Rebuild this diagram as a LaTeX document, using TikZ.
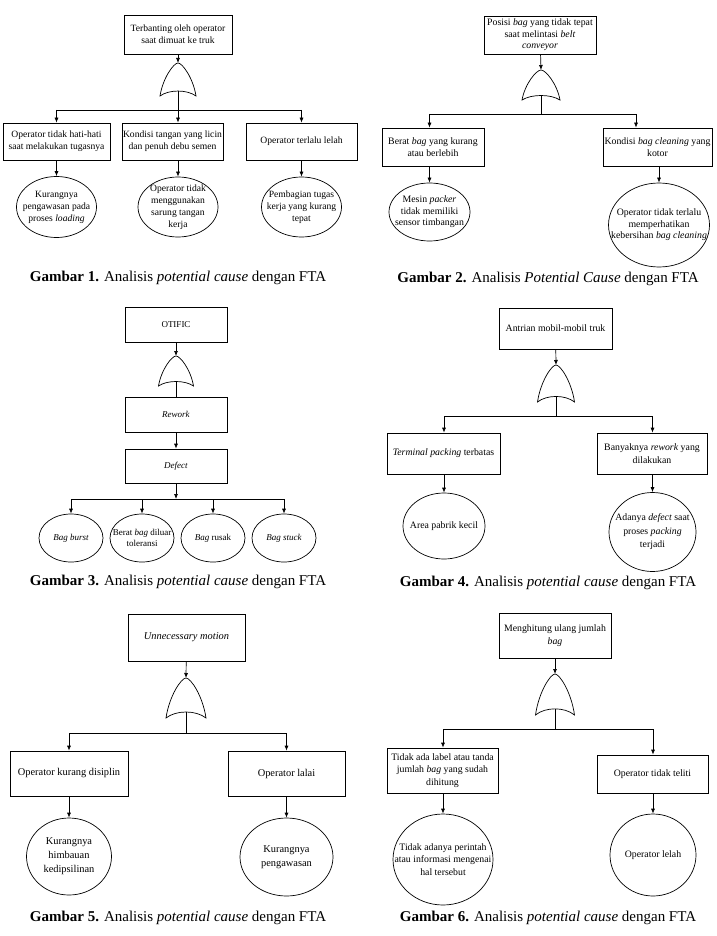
\documentclass[tikz,border=0pt]{standalone}
\usepackage{fontspec}
\setmainfont{Liberation Serif}
\usetikzlibrary{arrows.meta, shapes.geometric}

\tikzset{
  box/.style={draw, rectangle, align=center, inner sep=1pt},
  oval/.style={draw, ellipse, inner sep=0pt},
  lbl/.style={align=center, inner sep=0pt},
  arr/.style={-{Latex[length=5pt,width=4pt]}},
  caption/.style={font=\fontsize{15}{17}\selectfont},
  pics/orgate/.style 2 args={code={
    \draw (-#1/2,#2) .. controls (-0.42*#1,0.45*#2) and (-0.12*#1,0) .. (0,0)
      .. controls (0.12*#1,0) and (0.42*#1,0.45*#2) .. (#1/2,#2)
      .. controls (0.25*#1,0.8*#2) and (-0.25*#1,0.8*#2) .. cycle;
    \coordinate (-top) at (0,0);
    \coordinate (-bot) at (0,0.85*#2);
  }}
}

\begin{document}
\begin{tikzpicture}[x=1pt, y=-1pt, line width=0.7pt, font=\fontsize{9.8}{11.5}\selectfont]
\useasboundingbox (0,0) rectangle (716,936);

% Gambar 1
\begin{scope}[font=\fontsize{9.6}{12}\selectfont]
\node[box, minimum width=108, minimum height=39] (t1) at (178,34.5) {Terbanting oleh operator\\saat dimuat ke truk};
\pic (g1) at (178,63) {orgate={36}{33}};
\coordinate (bus1) at (178,110);
\node[box, minimum width=107, minimum height=37] (a1) at (56.5,141.5) {Operator tidak hati-hati\\saat melakukan tugasnya};
\node[box, minimum width=97, minimum height=37] (b1) at (172.5,141.5) {Kondisi tangan yang licin\\dan penuh debu semen};
\node[box, minimum width=111, minimum height=37] (c1) at (301.5,141.5) {Operator terlalu lelah};
\node[oval, minimum width=80, minimum height=61, label={[lbl]center:Kurangnya\\pengawasan pada\\proses \textit{loading}}] (ea1) at (56.5,207) {};
\node[oval, minimum width=80, minimum height=60, label={[lbl]center:Operator tidak\\menggunakan\\sarung tangan\\kerja}] (eb1) at (178,207) {};
\node[oval, minimum width=80, minimum height=60, label={[lbl]center:Pembagian tugas\\kerja yang kurang\\tepat}] (ec1) at (301.5,207) {};
\draw[arr] (t1) -- (g1-top);
\draw (g1-bot) -- (bus1);
\draw (bus1 -| a1) -- (bus1 -| c1);
\foreach \n/\e in {a1/ea1, b1/eb1, c1/ec1}
{
    \draw[arr] (bus1 -| \e) -- (\e |- \n.north);
    \draw[arr] (\e |- \n.south) -- (\e.north);
}
\end{scope}
\node[caption] (cap1) at (178,278) {\textbf{Gambar 1.} Analisis \textit{potential cause} dengan FTA};

% Gambar 2
\begin{scope}[font=\fontsize{9.8}{11.5}\selectfont]
\node[box, minimum width=112, minimum height=38] (t2) at (540,35) {Posisi \textit{bag} yang tidak tepat\\saat melintasi \textit{belt}\\\textit{conveyor}};
\pic (g2) at (541,70) {orgate={38}{30}};
\coordinate (bus2) at (541,114);
\coordinate (k2) at (636,114);
\node[box, minimum width=102, minimum height=38] (a2) at (433,147) {Berat \textit{bag} yang kurang\\atau berlebih};
\node[box, minimum width=109, minimum height=38] (b2) at (657.5,147) {Kondisi \textit{bag cleaning} yang\\kotor};
\node[oval, minimum width=81, minimum height=58, label={[lbl]center:Mesin \textit{packer}\\tidak memiliki\\sensor timbangan}] (ea2) at (429.5,212) {};
\node[oval, minimum width=101, minimum height=84, label={[lbl]center:Operator tidak terlalu\\memperhatikan\\kebersihan \textit{bag cleaning}}] (eb2) at (659,225) {};
\draw[arr] (t2) -- (g2-top);
\draw (g2-bot) -- (bus2);
\draw (bus2 -| ea2) -- (k2);
\draw[arr] (bus2 -| ea2) -- (ea2 |- a2.north);
\draw[arr] (k2) -- (k2 |- b2.north);
\draw[arr] (ea2 |- a2.south) -- (ea2.north);
\draw[arr] (eb2 |- b2.south) -- (eb2.north);
\end{scope}
\node[caption] (cap2) at (548,279) {\textbf{Gambar 2.} Analisis \textit{Potential Cause} dengan FTA};

% Gambar 3
\begin{scope}[font=\fontsize{9}{11}\selectfont]
\node[box, minimum width=102, minimum height=35] (t3) at (176,324.5) {OTIFIC};
\pic (g3) at (176,356) {orgate={35}{30}};
\node[box, minimum width=102, minimum height=35] (r3) at (176,414.5) {\textit{Rework}};
\node[box, minimum width=102, minimum height=34] (d3) at (176,466) {\textit{Defect}};
\coordinate (bus3) at (176,499);
\foreach \x/\e/\s in {71/e3a/\textit{Bag burst}, 142/e3b/Berat \textit{bag} diluar\\toleransi, 213/e3c/\textit{Bag} rusak, 284/e3d/\textit{Bag stuck}}
{
    \node[oval, minimum width=64, minimum height=48, label={[lbl]center:\s}] (\e) at (\x,538) {};
    \draw[arr] (bus3 -| \e) -- (\e);
}
\draw[arr] (t3) -- (g3-top);
\draw (g3-bot) -- (r3);
\draw[arr] (r3) -- (d3);
\draw[arr] (d3) -- (bus3);
\draw (bus3 -| e3a) -- (bus3 -| e3d);
\end{scope}
\node[caption] (cap3) at (178,582) {\textbf{Gambar 3.} Analisis \textit{potential cause} dengan FTA};

% Gambar 4
\begin{scope}[font=\fontsize{9.8}{13.5}\selectfont]
\node[box, minimum width=113, minimum height=41] (t4) at (555.5,328.5) {Antrian mobil-mobil truk};
\pic (g4) at (556,365) {orgate={37}{37}};
\coordinate (bus4) at (556,416);
\node[box, minimum width=113, minimum height=41] (a4) at (443.5,453.5) {\textit{Terminal packing} terbatas};
\node[box, minimum width=110, minimum height=41] (b4) at (652,453.5) {Banyaknya \textit{rework} yang\\dilakukan};
\node[oval, minimum width=82, minimum height=66, label={[lbl]center:Area pabrik kecil}] (ea4) at (444,526) {};
\node[oval, minimum width=87, minimum height=79, label={[lbl]center:Adanya \textit{defect} saat\\proses \textit{packing}\\terjadi}] (eb4) at (652.5,532) {};
\draw[arr] (t4) -- (g4-top);
\draw (g4-bot) -- (bus4);
\draw (bus4 -| ea4) -- (bus4 -| eb4);
\foreach \n/\e in {a4/ea4, b4/eb4}
{
    \draw[arr] (bus4 -| \e) -- (\e |- \n.north);
    \draw[arr] (\e |- \n.south) -- (\e.north);
}
\end{scope}
\node[caption] (cap4) at (548,583) {\textbf{Gambar 4.} Analisis \textit{potential cause} dengan FTA};

% Gambar 5
\begin{scope}[font=\fontsize{10.4}{14}\selectfont]
\node[box, minimum width=117, minimum height=47] (t5) at (186.5,637.5) {\textit{Unnecessary motion}};
\pic (g5) at (186,678) {orgate={40}{40}};
\coordinate (bus5) at (186,733);
\node[box, minimum width=118, minimum height=45] (a5) at (69,773.5) {Operator kurang disiplin};
\node[box, minimum width=117, minimum height=45] (b5) at (286.5,773.5) {Operator lalai};
\node[oval, minimum width=85, minimum height=77, label={[lbl]center:Kurangnya\\himbauan\\kedipsilinan}] (ea5) at (69,856.5) {};
\node[oval, minimum width=93, minimum height=78, label={[lbl]center:Kurangnya\\pengawasan}] (eb5) at (286.5,857) {};
\draw[arr] (t5) -- (g5-top);
\draw (g5-bot) -- (bus5);
\draw (bus5 -| ea5) -- (bus5 -| eb5);
\foreach \n/\e in {a5/ea5, b5/eb5}
{
    \draw[arr] (bus5 -| \e) -- (\e |- \n.north);
    \draw[arr] (\e |- \n.south) -- (\e.north);
}
\end{scope}
\node[caption] (cap5) at (178,918) {\textbf{Gambar 5.} Analisis \textit{potential cause} dengan FTA};

% Gambar 6
\begin{scope}[font=\fontsize{9.8}{12.5}\selectfont]
\node[box, minimum width=112, minimum height=45] (t6) at (555,635.5) {Menghitung ulang jumlah\\\textit{bag}};
\pic (g6) at (555,674) {orgate={39}{41}};
\coordinate (bus6) at (555,729);
\node[box, minimum width=111, minimum height=45] (a6) at (442.5,770.5) {Tidak ada label atau tanda\\jumlah \textit{bag} yang sudah\\dihitung};
\node[box, minimum width=111, minimum height=38] (b6) at (652.5,774) {Operator tidak teliti};
\node[oval, minimum width=100, minimum height=91, label={[lbl]center:Tidak adanya perintah\\atau informasi mengenai\\hal tersebut}] (ea6) at (443,859.5) {};
\node[oval, minimum width=86, minimum height=82, label={[lbl]center:Operator lelah}] (eb6) at (653,855) {};
\draw[arr] (t6) -- (g6-top);
\draw (g6-bot) -- (bus6);
\draw (bus6 -| ea6) -- (bus6 -| eb6);
\foreach \n/\e in {a6/ea6, b6/eb6}
{
    \draw[arr] (bus6 -| \e) -- (\e |- \n.north);
    \draw[arr] (\e |- \n.south) -- (\e.north);
}
\end{scope}
\node[caption] (cap6) at (548,918) {\textbf{Gambar 6.} Analisis \textit{potential cause} dengan FTA};
\end{tikzpicture}
\end{document}
